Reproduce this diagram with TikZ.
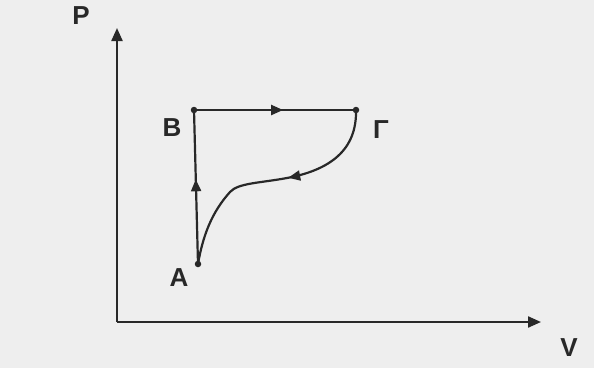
\documentclass[tikz,border=0pt]{standalone}
\usepackage{fontspec}
\setsansfont{Liberation Sans}
\usetikzlibrary{arrows.meta,decorations.markings}
\definecolor{bg}{RGB}{238,238,238}
\definecolor{ink}{RGB}{40,40,40}
\tikzset{
  lbl/.style={font=\sffamily\bfseries\fontsize{26}{28}\selectfont, text=ink, inner sep=0pt},
  axis/.style={draw=ink, line width=2.2pt, -{Triangle[length=13pt,width=11pt]}},
  pathline/.style={draw=ink, line width=2.2pt},
  midarrow/.style={postaction={decorate}, decoration={markings, mark=at position #1 with {\arrow{Triangle[length=12pt,width=10pt]}}}},
  pt/.style={circle, fill=ink, minimum size=6.5pt, inner sep=0pt}
}
\begin{document}
\begin{tikzpicture}[x=1pt,y=-1pt]
\fill[bg] (0,0) rectangle (594,368);
\useasboundingbox (0,0) rectangle (594,368);
\coordinate (O) at (117,322);
\coordinate (Ptop) at (117,28);
\coordinate (Vend) at (541,322);
\draw[axis] (O) -- (Ptop);
\draw[axis] (O) -- (Vend);
\node[lbl] (Plab) at (81,16) {P};
\node[lbl] (Vlab) at (569,348) {V};
\node[pt] (B) at (194,110) {};
\node[pt] (G) at (356,110) {};
\node[pt] (A) at (198,264) {};
\node[lbl] (Blab) at (172,128) {B};
\node[lbl] (Glab) at (381,130) {Γ};
\node[lbl] (Alab) at (179,278) {A};
\draw[pathline, midarrow=0.55] (A.center) -- (B.center);
\draw[pathline, midarrow=0.55] (B.center) -- (G.center);
\draw[pathline, midarrow=0.43] (G.center) .. controls (357,150) and (330,170) .. (287,178)
  .. controls (260,183) and (238,183) .. (230,192)
  .. controls (212,212) and (203,235) .. (A.center);
\end{tikzpicture}
\end{document}
